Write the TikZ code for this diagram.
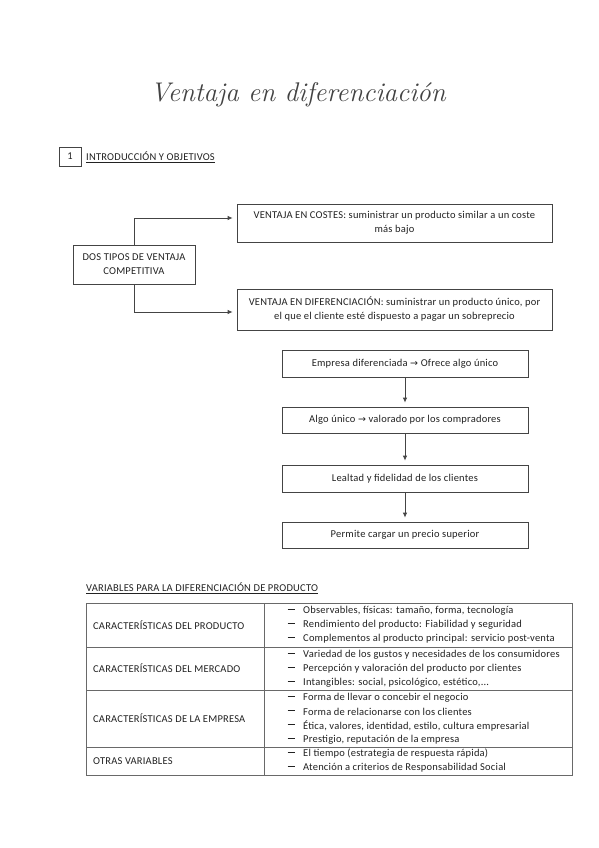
\documentclass[tikz,border=0pt]{standalone}
\usepackage{fontspec}
\newfontfamily\carlito{Carlito}[LetterSpace=2]
\newfontfamily\sym{DejaVu Sans}
\usetikzlibrary{arrows.meta}
\definecolor{ink}{HTML}{222222}
\definecolor{edge}{HTML}{444444}
\tikzset{
  txt/.style={font=\carlito\fontsize{10.5}{14}\selectfont, text=ink, inner sep=0pt},
  boxed/.style={txt, draw=edge, line width=0.8pt, align=center},
  conn/.style={draw=edge, line width=0.8pt, -{Latex[length=5pt,width=4.5pt]}},
  grid/.style={draw=edge!80, line width=0.8pt}
}
\begin{document}
\begin{tikzpicture}[x=1pt,y=-1pt]
\useasboundingbox[fill=white] (0,0) rectangle (599,848);
% title
\node[text=ink!85, font=\fontsize{27}{32}\selectfont\itshape] (title) at (298,95) {Ventaja en diferenciación};
% section 1
\node[boxed, minimum width=22pt, minimum height=19pt] (num) at (70,156.5) {1};
\node[txt, anchor=west] (sec) at (86,157) {\underline{INTRODUCCIÓN Y OBJETIVOS}};
% two types
\node[boxed, minimum width=122pt, minimum height=39pt] (dos) at (134,264.5) {DOS TIPOS DE VENTAJA\\COMPETITIVA};
\node[boxed, minimum width=315pt, minimum height=38pt] (cost) at (394.5,223) {VENTAJA EN COSTES: suministrar un producto similar a un coste\\más bajo};
\node[boxed, minimum width=315pt, minimum height=41pt] (dif) at (394.5,309.5) {VENTAJA EN DIFERENCIACIÓN: suministrar un producto único, por\\el que el cliente esté dispuesto a pagar un sobreprecio};
\draw[conn, shorten >=4pt] (dos.north) |- ([yshift=5pt]cost.west);
\draw[conn, shorten >=4pt] (dos.south) |- ([yshift=-2.5pt]dif.west);
% flow
\node[boxed, minimum width=246pt, minimum height=27pt] (f1) at (405,363.5) {Empresa diferenciada {\sym\fontsize{9.5}{10}\selectfont →} Ofrece algo único};
\node[boxed, minimum width=246pt, minimum height=26pt] (f2) at (405,420) {Algo único {\sym\fontsize{9.5}{10}\selectfont →} valorado por los compradores};
\node[boxed, minimum width=246pt, minimum height=27pt] (f3) at (405,478.5) {Lealtad y fidelidad de los clientes};
\node[boxed, minimum width=246pt, minimum height=26pt] (f4) at (405,535) {Permite cargar un precio superior};
\draw[conn, shorten >=4pt] (f1.south) -- (f2.north);
\draw[conn, shorten >=4pt] (f2.south) -- (f3.north);
\draw[conn, shorten >=4pt] (f3.south) -- (f4.north);
% table heading
\node[txt, anchor=west] (vars) at (86,588) {\underline{VARIABLES PARA LA DIFERENCIACIÓN DE PRODUCTO}};
% table grid
\draw[grid] (86,603) rectangle (572,775);
\draw[grid] (264,603) -- (264,775);
\draw[grid] (86,647) -- (572,647);
\draw[grid] (86,690) -- (572,690);
\draw[grid] (86,747) -- (572,747);
% left column
\node[txt, anchor=west] (r1) at (93,625) {CARACTERÍSTICAS DEL PRODUCTO};
\node[txt, anchor=west] (r2) at (93,668.5) {CARACTERÍSTICAS DEL MERCADO};
\node[txt, anchor=west] (r3) at (93,718.5) {CARACTERÍSTICAS DE LA EMPRESA};
\node[txt, anchor=west] (r4) at (93,761) {OTRAS VARIABLES};
% right column items
\foreach \y/\t [count=\i] in {
  611/{Observables, físicas: tamaño, forma, tecnología},
  625/{Rendimiento del producto: Fiabilidad y seguridad},
  639/{Complementos al producto principal: servicio post-venta},
  655/{Variedad de los gustos y necesidades de los consumidores},
  669/{Percepción y valoración del producto por clientes},
  683/{Intangibles: social, psicológico, estético,...},
  697.5/{Forma de llevar o concebir el negocio},
  711.5/{Forma de relacionarse con los clientes},
  725.5/{Ética, valores, identidad, estilo, cultura empresarial},
  739.5/{Prestigio, reputación de la empresa},
  754/{El tiempo (estrategia de respuesta rápida)},
  768/{Atención a criterios de Responsabilidad Social}}{
  \node[txt, anchor=center] (d\i) at (291,\y-1.5) {\rule{7pt}{0.8pt}};
  \node[txt, anchor=west] (it\i) at (303,\y) {\t};
}
\end{tikzpicture}
\end{document}
